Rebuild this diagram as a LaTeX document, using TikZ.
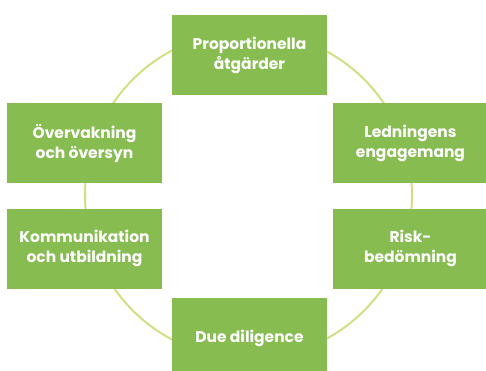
\documentclass[tikz,border=0pt]{standalone}
\usepackage{fontspec}
\newfontfamily\boxfont{Poppins}
\definecolor{boxgreen}{RGB}{134,188,80}
\definecolor{ringgreen}{RGB}{210,224,130}
\begin{document}
\begin{tikzpicture}[x=1pt, y=-1pt,
    stage/.style={fill=boxgreen, text=white, align=center, minimum width=155pt,
        minimum height=80pt, inner sep=0pt, font=\boxfont\bfseries\fontsize{15.5}{20}\selectfont}]
    \useasboundingbox (0,0) rectangle (486,371);
    % ring behind the boxes
    \draw[ringgreen, line width=2pt] (248.5,195) circle[radius=163.5pt];

    \node[stage] (atgarder) at (249.5,55) {Proportionella\\åtgärder};
    \node[stage] (ledning) at (410.5,143) {Ledningens\\engagemang};
    \node[stage] (risk) at (410.5,248.5) {Risk-\\bedömning};
    \node[stage] (diligence) at (249.5,338) {Due diligence};
    \node[stage] (kommunikation) at (84.5,248.5) {Kommunikation\\och utbildning};
    \node[stage] (overvakning) at (84.5,143) {Övervakning\\och översyn};
\end{tikzpicture}
\end{document}
